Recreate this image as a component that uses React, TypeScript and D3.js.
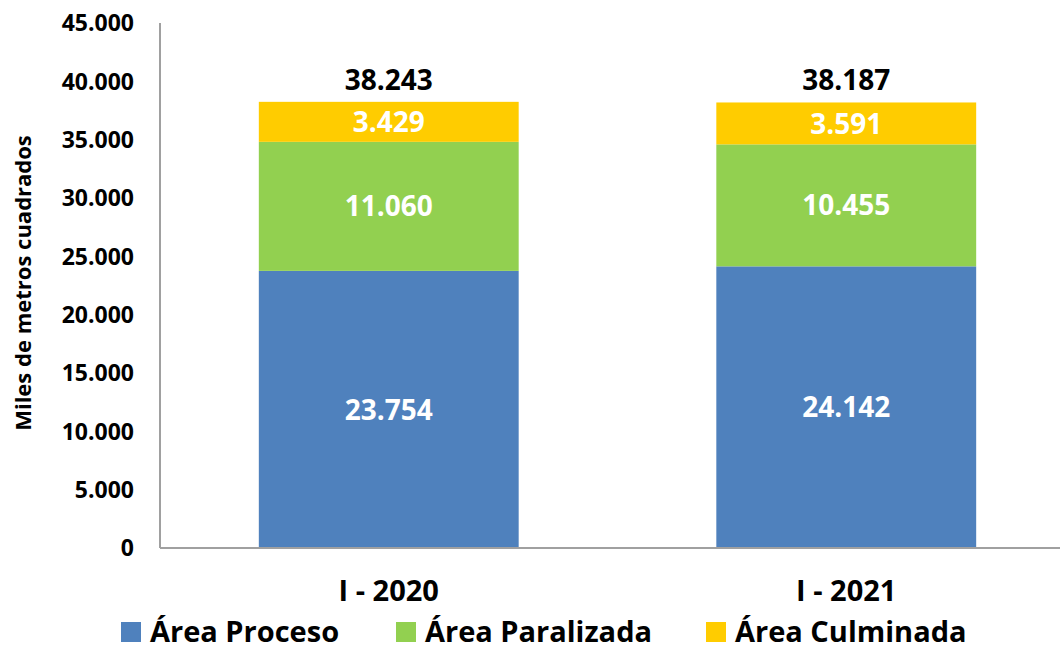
import React from "react";
import * as d3 from "d3";

const categories = ["I - 2020", "I - 2021"];
const seriesNames = ["Área Proceso", "Área Paralizada", "Área Culminada"];
const proceso = [23754, 24142];
const paralizada = [11060, 10455];
const culminada = [3429, 3591];
const totals = [38243, 38187];
const yTicks = [0, 5000, 10000, 15000, 20000, 25000, 30000, 35000, 40000, 45000];
const colors = ["#4F81BD", "#92D050", "#FFCC00"];

const W = 1060;
const H = 649;
const FONT = "'Open Sans', 'Noto Sans', sans-serif";

const fmt = (v: number) => d3.format(",")(v).replace(/,/g, ".");

export default function App() {
  const y = d3.scaleLinear().domain([0, 45000]).range([548, 23]);
  const x = d3.scaleBand<string>().domain(categories).range([160, 1075]).paddingInner(0.432).paddingOuter(0.216);
  const rows = categories.map((c, i) => ({ cat: c, proceso: proceso[i], paralizada: paralizada[i], culminada: culminada[i] }));
  const stack = d3.stack<any>().keys(["proceso", "paralizada", "culminada"])(rows);
  const legendSq = [121, 396, 706];
  const legendTx = [150, 425, 735];

  return (
    <svg width={W} height={H} style={{ position: "absolute", left: 0, top: 0, background: "#fff" }} fontFamily={FONT}>
      {stack.map((layer, si) =>
        layer.map((d, i) => (
          <g key={`${si}-${i}`}>
            <rect x={x(categories[i])} width={x.bandwidth()} y={y(d[1])} height={y(d[0]) - y(d[1])} fill={colors[si]} />
            <text
              x={(x(categories[i]) as number) + x.bandwidth() / 2}
              y={(y(d[0]) + y(d[1])) / 2}
              dy="0.36em"
              textAnchor="middle"
              fill="#fff"
              fontWeight="bold"
              fontSize={28}
            >
              {fmt(d[1] - d[0])}
            </text>
          </g>
        ))
      )}
      {totals.map((t, i) => (
        <text key={i} x={(x(categories[i]) as number) + x.bandwidth() / 2} y={y(t) - 12} textAnchor="middle" fontWeight="bold" fontSize={28} fill="#000">
          {fmt(t)}
        </text>
      ))}
      <line x1={160} x2={1075} y1={548} y2={548} stroke="#A0A0A0" strokeWidth={2} />
      <line x1={160} x2={160} y1={23} y2={548} stroke="#A0A0A0" strokeWidth={2} />
      {yTicks.map((t) => (
        <text key={t} x={134} y={y(t)} dy="0.36em" textAnchor="end" fontWeight="bold" fontSize={23} fill="#000">
          {fmt(t)}
        </text>
      ))}
      {categories.map((c) => (
        <text key={c} x={(x(c) as number) + x.bandwidth() / 2} y={601} textAnchor="middle" fontWeight="bold" fontSize={29} fill="#000">
          {c}
        </text>
      ))}
      <text transform="translate(31,283) rotate(-90)" textAnchor="middle" fontWeight="bold" fontSize={22} fill="#000">
        Miles de metros cuadrados
      </text>
      {seriesNames.map((n, i) => (
        <g key={n}>
          <rect x={legendSq[i]} y={622} width={20} height={20} fill={colors[i]} />
          <text x={legendTx[i]} y={642} fontWeight="bold" fontSize={29} fill="#000">
            {n}
          </text>
        </g>
      ))}
    </svg>
  );
}
